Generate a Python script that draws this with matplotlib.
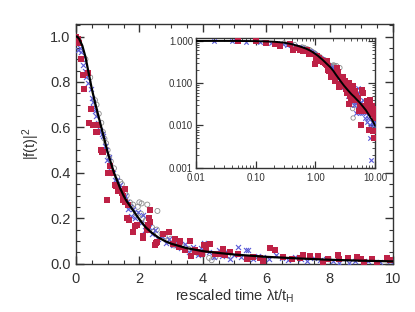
import matplotlib
matplotlib.use("Agg")
import matplotlib.pyplot as plt
from matplotlib.ticker import MultipleLocator, FixedLocator, FixedFormatter, LogLocator, NullFormatter

plt.rcParams['font.family'] = ['Liberation Sans', 'DejaVu Sans']
plt.rcParams['mathtext.default'] = 'regular'

# red squares
red_t = [0.0, 0.05, 0.10, 0.15, 0.21, 0.26, 0.37, 0.42, 0.49, 0.55, 0.62, 0.65, 0.71, 0.78, 0.82, 0.86,
         0.99, 1.02, 1.07, 1.13, 1.23, 1.26, 1.33, 1.39, 1.44, 1.47, 1.49, 1.55, 1.55, 1.60, 1.65, 1.68,
         1.79, 1.87, 1.91, 2.10, 2.12, 2.23, 2.28, 2.31, 2.33, 2.35, 2.49, 2.52, 2.56, 2.75, 2.94, 3.07,
         3.12, 3.26, 3.28, 3.44, 3.60, 3.62, 3.76, 3.81, 3.96, 4.05, 4.10, 4.23, 4.38, 4.54, 4.65, 4.70,
         4.86, 5.12, 5.38, 5.59, 5.80, 5.90, 6.12, 6.28, 6.54, 6.80, 7.07, 7.17, 7.38, 7.65, 7.80, 7.96,
         8.27, 8.30, 8.59, 8.85, 9.00, 9.10, 9.33, 9.50, 9.82, 9.90]
red_y = [1.0, 0.99, 0.97, 0.90, 0.83, 0.77, 0.84, 0.62, 0.68, 0.61, 0.58, 0.58, 0.61, 0.50, 0.49, 0.49,
         0.28, 0.40, 0.43, 0.40, 0.345, 0.34, 0.32, 0.32, 0.31, 0.30, 0.28, 0.33, 0.27, 0.20, 0.26, 0.19,
         0.14, 0.165, 0.17, 0.115, 0.12, 0.147, 0.17, 0.20, 0.235, 0.185, 0.08, 0.09, 0.095, 0.13, 0.14, 0.088,
         0.11, 0.073, 0.10, 0.059, 0.10, 0.032, 0.06, 0.051, 0.044, 0.08, 0.06, 0.085, 0.044, 0.041, 0.066, 0.04,
         0.051, 0.044, 0.022, 0.029, 0.025, 0.01, 0.07, 0.059, 0.029, 0.022, 0.025, 0.037, 0.032, 0.034, 0.008, 0.022,
         0.04, 0.022, 0.025, 0.029, 0.02, 0.0075, 0.019, 0.005, 0.025, 0.015]

# blue crosses
blue_t = [0.02, 0.04, 0.07, 0.12, 0.15, 0.18, 0.23, 0.29, 0.33, 0.39, 0.46, 0.50, 0.53, 0.55, 0.60, 0.63,
          0.70, 0.76, 0.81, 0.86, 0.92, 0.95, 0.99, 1.03, 1.07, 1.12, 1.18, 1.22, 1.28, 1.34, 1.39, 1.45,
          1.50, 1.55, 1.60, 1.65, 1.70, 1.75, 1.80, 1.86, 1.97, 2.05, 2.12, 2.18, 2.30, 2.40, 2.50, 2.60,
          2.70, 2.85, 2.95, 3.05, 3.15, 3.30, 3.45, 3.55, 3.70, 3.85, 3.95, 4.05, 4.20, 4.35, 4.50, 4.60,
          4.75, 4.85, 5.00, 5.12, 5.20, 5.35, 5.44, 5.60, 5.75, 5.90, 6.10, 6.30, 6.50, 6.70, 6.90, 7.10,
          7.30, 7.50, 7.70, 7.90, 8.10, 8.30, 8.60, 8.80, 9.20, 9.60, 9.90]
blue_y = [0.99, 0.97, 0.94, 0.95, 0.93, 0.90, 0.875, 0.85, 0.82, 0.795, 0.77, 0.73, 0.71, 0.69, 0.67, 0.65,
          0.62, 0.59, 0.57, 0.56, 0.52, 0.50, 0.456, 0.47, 0.43, 0.41, 0.40, 0.37, 0.37, 0.33, 0.345, 0.317,
          0.287, 0.30, 0.27, 0.24, 0.25, 0.21, 0.24, 0.20, 0.228, 0.18, 0.213, 0.15, 0.16, 0.13, 0.15, 0.11,
          0.12, 0.09, 0.11, 0.08, 0.10, 0.07, 0.085, 0.05, 0.075, 0.04, 0.07, 0.09, 0.05, 0.03, 0.06, 0.035,
          0.05, 0.02, 0.04, 0.075, 0.03, 0.06, 0.06, 0.02, 0.035, 0.03, 0.02, 0.04, 0.025, 0.015, 0.03, 0.02,
          0.012, 0.025, 0.015, 0.02, 0.01, 0.005, 0.0015, 0.012, 0.01, 0.008, 0.012]

# grey open circles
grey_t = [0.10, 0.30, 0.45, 0.60, 0.65, 0.72, 0.80, 0.85, 0.90, 0.95, 1.00, 1.05, 1.10, 1.20, 1.30, 1.40,
          1.45, 1.55, 1.60, 1.70, 1.75, 1.80, 1.90, 1.95, 2.00, 2.05, 2.07, 2.10, 2.20, 2.25, 2.30, 2.40,
          2.45, 2.55, 2.57, 2.70, 2.80, 2.90, 3.00, 3.10, 3.25, 3.40, 3.55, 3.70, 3.85, 4.00, 4.20, 4.28,
          4.40, 4.80]
grey_y = [0.98, 0.90, 0.82, 0.72, 0.70, 0.66, 0.62, 0.58, 0.55, 0.53, 0.50, 0.47, 0.45, 0.42, 0.38, 0.36,
          0.35, 0.31, 0.30, 0.27, 0.25, 0.26, 0.22, 0.25, 0.27, 0.22, 0.265, 0.20, 0.19, 0.26, 0.17, 0.16,
          0.14, 0.15, 0.232, 0.13, 0.12, 0.10, 0.11, 0.08, 0.09, 0.075, 0.065, 0.06, 0.045, 0.04, 0.025, 0.015,
          0.03, 0.035]

# model curve
curve_t = [0.0, 0.01, 0.03, 0.05, 0.1, 0.2, 0.3, 0.4, 0.5, 0.6, 0.7, 0.8, 0.9, 1.0, 1.1, 1.2, 1.3, 1.4,
           1.5, 1.6, 1.8, 2.0, 2.2, 2.4, 2.6, 2.8, 3.0, 3.5, 4.0, 4.5, 5.0, 5.5, 6.0, 7.0, 8.0, 9.0, 10.0]
curve_y = [1.0, 1.0, 1.0, 0.998, 0.99, 0.96, 0.91, 0.84, 0.77, 0.71, 0.655, 0.60, 0.545, 0.49, 0.445, 0.40,
           0.365, 0.33, 0.30, 0.275, 0.235, 0.195, 0.16, 0.135, 0.115, 0.10, 0.088, 0.068, 0.055, 0.047,
           0.040, 0.035, 0.030, 0.023, 0.017, 0.013, 0.010]

red = '#be2146'
blue = '#5a5ad8'
grey = '#8c8c8c'
axcol = '#333333'
txtcol = '#333333'


def draw_points(ax, ms):
    ax.scatter(grey_t, grey_y, s=ms, marker='o', facecolors='none', edgecolors=grey, linewidths=0.6, zorder=2)
    ax.scatter(blue_t, blue_y, s=ms, marker='x', color=blue, linewidths=0.8, zorder=3)
    ax.scatter(red_t, red_y, s=ms * 1.3, marker='s', color=red, linewidths=0, zorder=4)


def style_axes(ax, lab):
    for sp in ax.spines.values():
        sp.set_color(axcol)
        sp.set_linewidth(1.0)
    ax.tick_params(which='both', direction='in', top=True, right=True, colors=axcol,
                   labelcolor=txtcol, labelsize=lab)


fig = plt.figure(figsize=(4.15, 3.12), dpi=100)
ax = fig.add_axes([0.183, 0.155, 0.764, 0.768])
draw_points(ax, 13)
ax.plot(curve_t, curve_y, color='black', lw=1.6, zorder=5)
ax.set_xlim(0, 10)
ax.set_ylim(0, 1.055)
ax.xaxis.set_major_locator(MultipleLocator(2))
ax.xaxis.set_minor_locator(MultipleLocator(0.5))
ax.yaxis.set_major_locator(MultipleLocator(0.2))
ax.yaxis.set_minor_locator(MultipleLocator(0.05))
ax.xaxis.set_major_formatter(matplotlib.ticker.FuncFormatter(lambda v, p: '%d' % v))
ax.yaxis.set_major_formatter(matplotlib.ticker.FormatStrFormatter('%.1f'))
style_axes(ax, 10.5)
ax.tick_params(which='major', length=6, width=1.0)
ax.tick_params(which='minor', length=3, width=0.8)
ax.tick_params(axis='x', pad=6)
ax.tick_params(axis='y', pad=4)
ax.set_xlabel(r'rescaled time $\lambda$t/t$_H$', fontsize=10.5, color=txtcol, labelpad=1)
ax.set_ylabel('|f(t)|$^2$', fontsize=10.5, color=txtcol, labelpad=6)

# inset, log-log
ins = fig.add_axes([0.472, 0.4625, 0.432, 0.4145])
draw_points(ins, 10)
ins.plot(curve_t[1:], curve_y[1:], color='black', lw=1.4, zorder=5)
ins.set_xscale('log')
ins.set_yscale('log')
ins.set_xlim(0.01, 10)
ins.set_ylim(0.001, 1.15)
ins.xaxis.set_major_locator(FixedLocator([0.01, 0.1, 1, 10]))
ins.xaxis.set_major_formatter(FixedFormatter(['0.01', '0.10', '1.00', '10.00']))
ins.yaxis.set_major_locator(FixedLocator([0.001, 0.01, 0.1, 1]))
ins.yaxis.set_major_formatter(FixedFormatter(['0.001', '0.010', '0.100', '1.000']))
ins.xaxis.set_minor_locator(LogLocator(base=10, subs=range(2, 10)))
ins.yaxis.set_minor_locator(LogLocator(base=10, subs=range(2, 10)))
ins.xaxis.set_minor_formatter(NullFormatter())
ins.yaxis.set_minor_formatter(NullFormatter())
style_axes(ins, 7)
ins.tick_params(which='major', length=5, width=0.9)
ins.tick_params(which='minor', length=2.5, width=0.6)
ins.tick_params(axis='x', pad=4)
ins.tick_params(axis='y', pad=2)

plt.savefig('out.png', dpi=100)
